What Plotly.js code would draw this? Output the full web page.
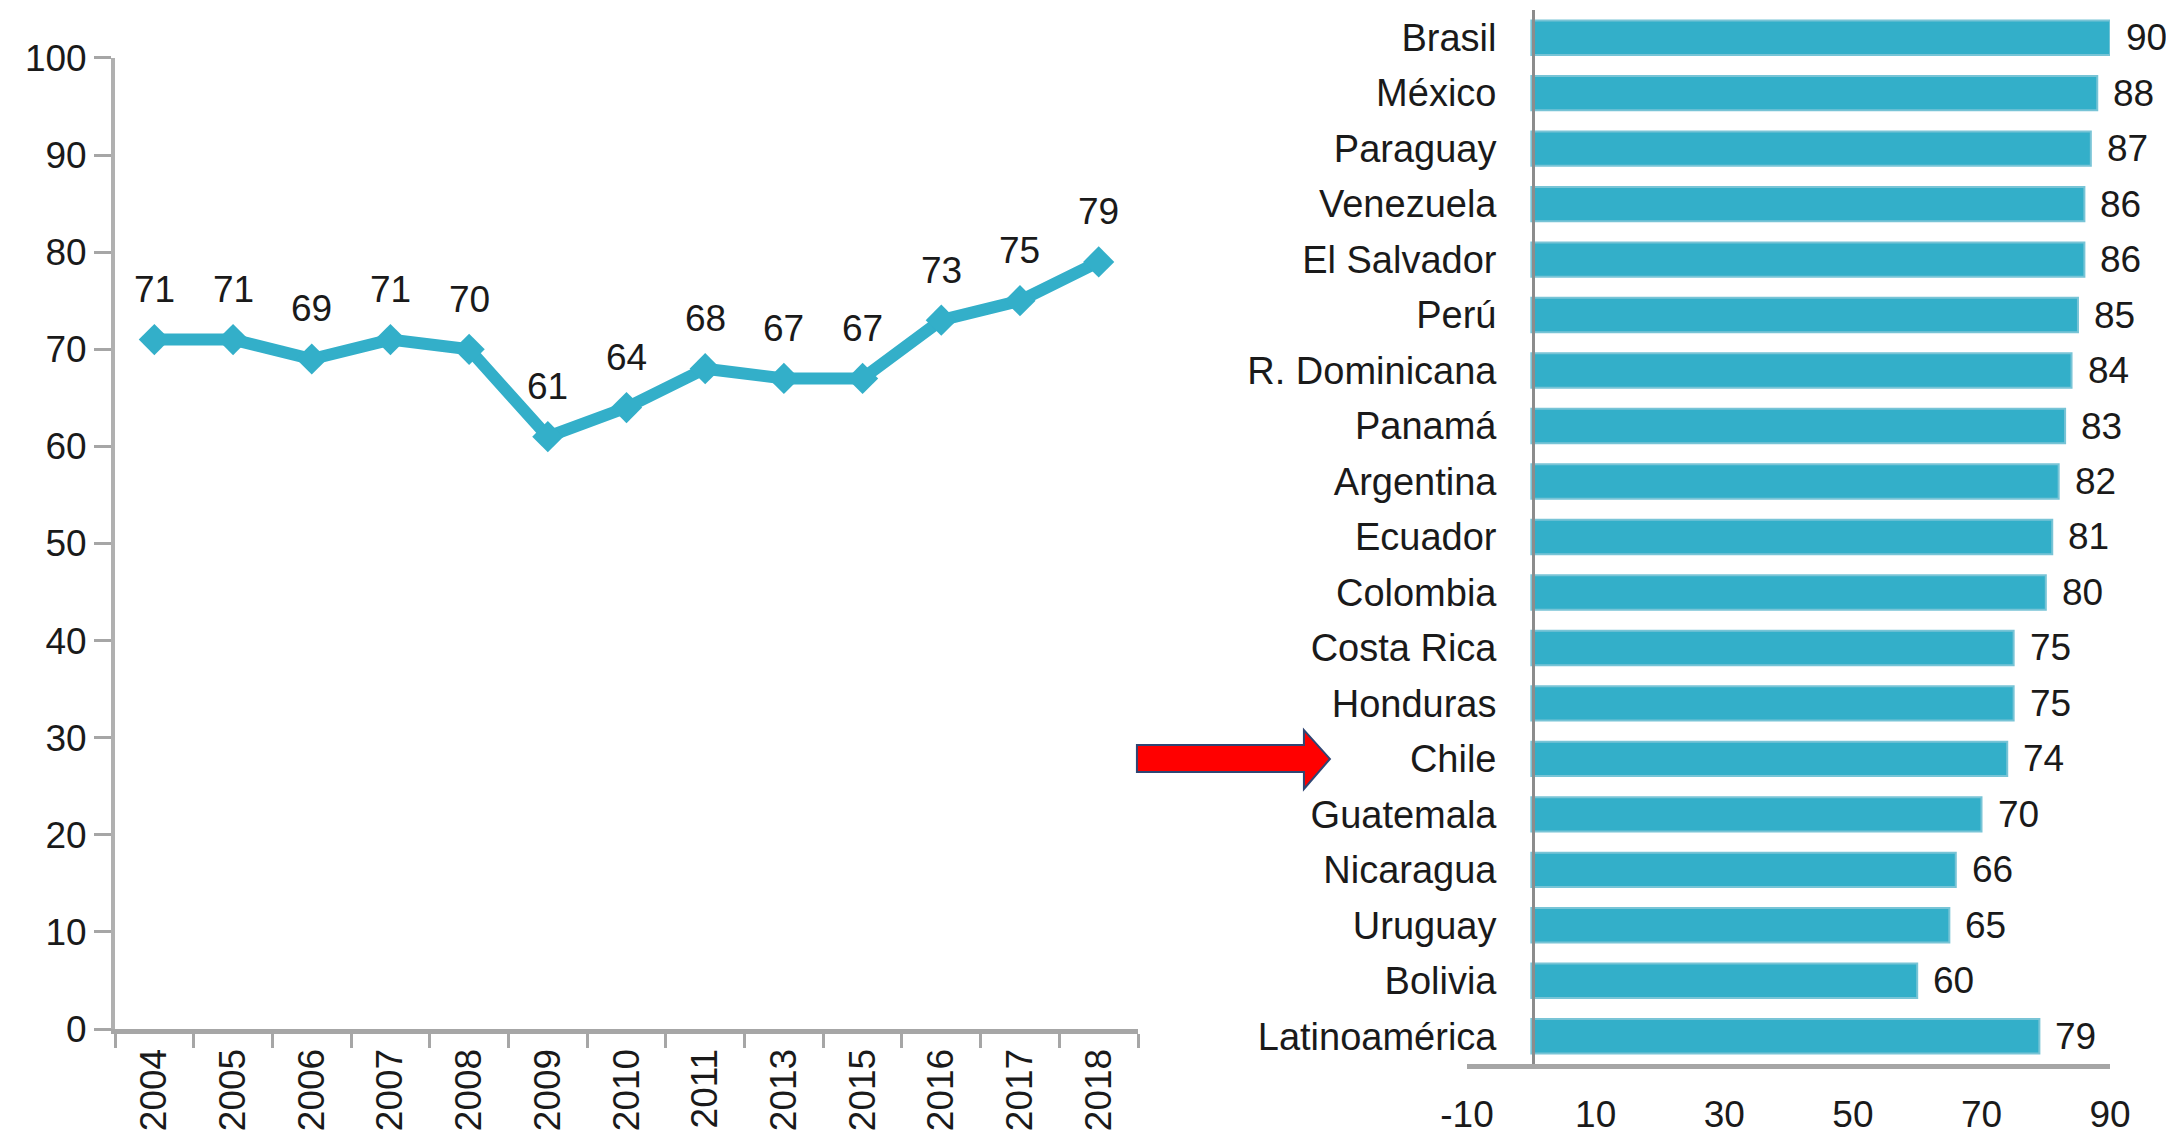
<!DOCTYPE html>
<html>
<head>
<meta charset="utf-8">
<script src="https://cdn.plot.ly/plotly-3.0.1.min.js"></script>
<style>html,body{margin:0;padding:0;background:#fff;}#chart{width:2166px;height:1143px;}</style>
</head>
<body>
<div id="chart"></div>
<script>
// Left chart: yearly series
const years = ["2004","2005","2006","2007","2008","2009","2010","2011","2013","2015","2016","2017","2018"];
const yearValues = [71,71,69,71,70,61,64,68,67,67,73,75,79];

// Right chart: countries
const countries = ["Brasil","México","Paraguay","Venezuela","El Salvador","Perú","R. Dominicana","Panamá","Argentina","Ecuador","Colombia","Costa Rica","Honduras","Chile","Guatemala","Nicaragua","Uruguay","Bolivia","Latinoamérica"];
const countryValues = [90,88,87,86,86,85,84,83,82,81,80,75,75,74,70,66,65,60,79];

// Right chart x-axis tick labels
const barTickVals = [-10,10,30,50,70,90];
const barTickText = ["-10","10","30","50","70","90"];

const teal = "rgb(51,175,201)";
const txt = "#1a1a1a";
const fam = "Liberation Sans, Arial, sans-serif";
const fs = 37;

const lineTrace = {
  type: "scatter", mode: "lines+markers",
  x: years, y: yearValues, xaxis: "x", yaxis: "y",
  line: {color: teal, width: 12},
  marker: {symbol: "diamond", size: 24, color: teal},
  hoverinfo: "skip", showlegend: false
};

const barTrace = {
  type: "bar", orientation: "h",
  x: countryValues, y: countries, xaxis: "x2", yaxis: "y2",
  marker: {color: teal, line: {color: "rgb(120,196,214)", width: 2}},
  width: 0.62, hoverinfo: "skip", showlegend: false
};

const annotations = [];
years.forEach((yr, i) => {
  annotations.push({
    x: i, y: yearValues[i], xref: "x", yref: "y",
    text: String(yearValues[i]), showarrow: false,
    yanchor: "middle", xanchor: "center", yshift: 50,
    font: {family: fam, size: fs, color: txt}
  });
});
countries.forEach((c, i) => {
  annotations.push({
    x: countryValues[i], y: i, xref: "x2", yref: "y2",
    text: String(countryValues[i]), showarrow: false,
    xanchor: "left", yanchor: "middle", xshift: 14,
    font: {family: fam, size: fs, color: txt}
  });
});

const layout = {
  width: 2166, height: 1143,
  margin: {l: 0, r: 0, t: 0, b: 0},
  paper_bgcolor: "#fff", plot_bgcolor: "rgba(0,0,0,0)",
  font: {family: fam, size: fs, color: txt},
  showlegend: false,
  xaxis: {
    domain: [0.0531, 0.5254], anchor: "y", type: "category",
    range: [-0.5, years.length - 0.5],
    tickangle: -90, ticks: "outside", tickson: "boundaries",
    ticklen: 14, tickwidth: 3, tickcolor: "#A6A6A6",
    showline: true, linecolor: "#A6A6A6", linewidth: 5,
    showgrid: false, zeroline: false,
    tickfont: {family: fam, size: fs, color: txt}
  },
  yaxis: {
    domain: [0.0997, 0.9493], anchor: "x",
    range: [0, 100], tick0: 0, dtick: 10,
    ticks: "outside", ticklen: 17, tickwidth: 3, tickcolor: "#A6A6A6",
    showline: true, linecolor: "#B0B0B0", linewidth: 4,
    showgrid: false, zeroline: false,
    tickfont: {family: fam, size: fs, color: txt}
  },
  xaxis2: {
    domain: [0.6773, 0.9742], anchor: "y2",
    range: [-10, 90], tickmode: "array", tickvals: barTickVals, ticktext: barTickText,
    ticks: "", ticklabelstandoff: 14,
    showline: true, linecolor: "#A6A6A6", linewidth: 5,
    showgrid: false, zeroline: false,
    tickfont: {family: fam, size: fs, color: txt}
  },
  yaxis2: {
    domain: [0.0691, 0.9913], anchor: "free", position: 0.7078,
    type: "category", autorange: "reversed",
    ticks: "", ticklabelstandoff: 28,
    showline: true, linecolor: "#8C8C8C", linewidth: 3,
    showgrid: false, zeroline: false,
    tickfont: {family: fam, size: 38, color: txt}
  },
  annotations: annotations,
  shapes: [{
    type: "path", xref: "paper", yref: "paper",
    path: "M 0.5249 0.3482 L 0.6020 0.3482 L 0.6020 0.3613 L 0.6140 0.3360 L 0.6020 0.3097 L 0.6020 0.3246 L 0.5249 0.3246 Z",
    fillcolor: "#FF0000", line: {color: "#2F4573", width: 2}
  }]
};

Plotly.newPlot("chart", [lineTrace, barTrace], layout, {staticPlot: true, displayModeBar: false});
</script>
</body>
</html>
